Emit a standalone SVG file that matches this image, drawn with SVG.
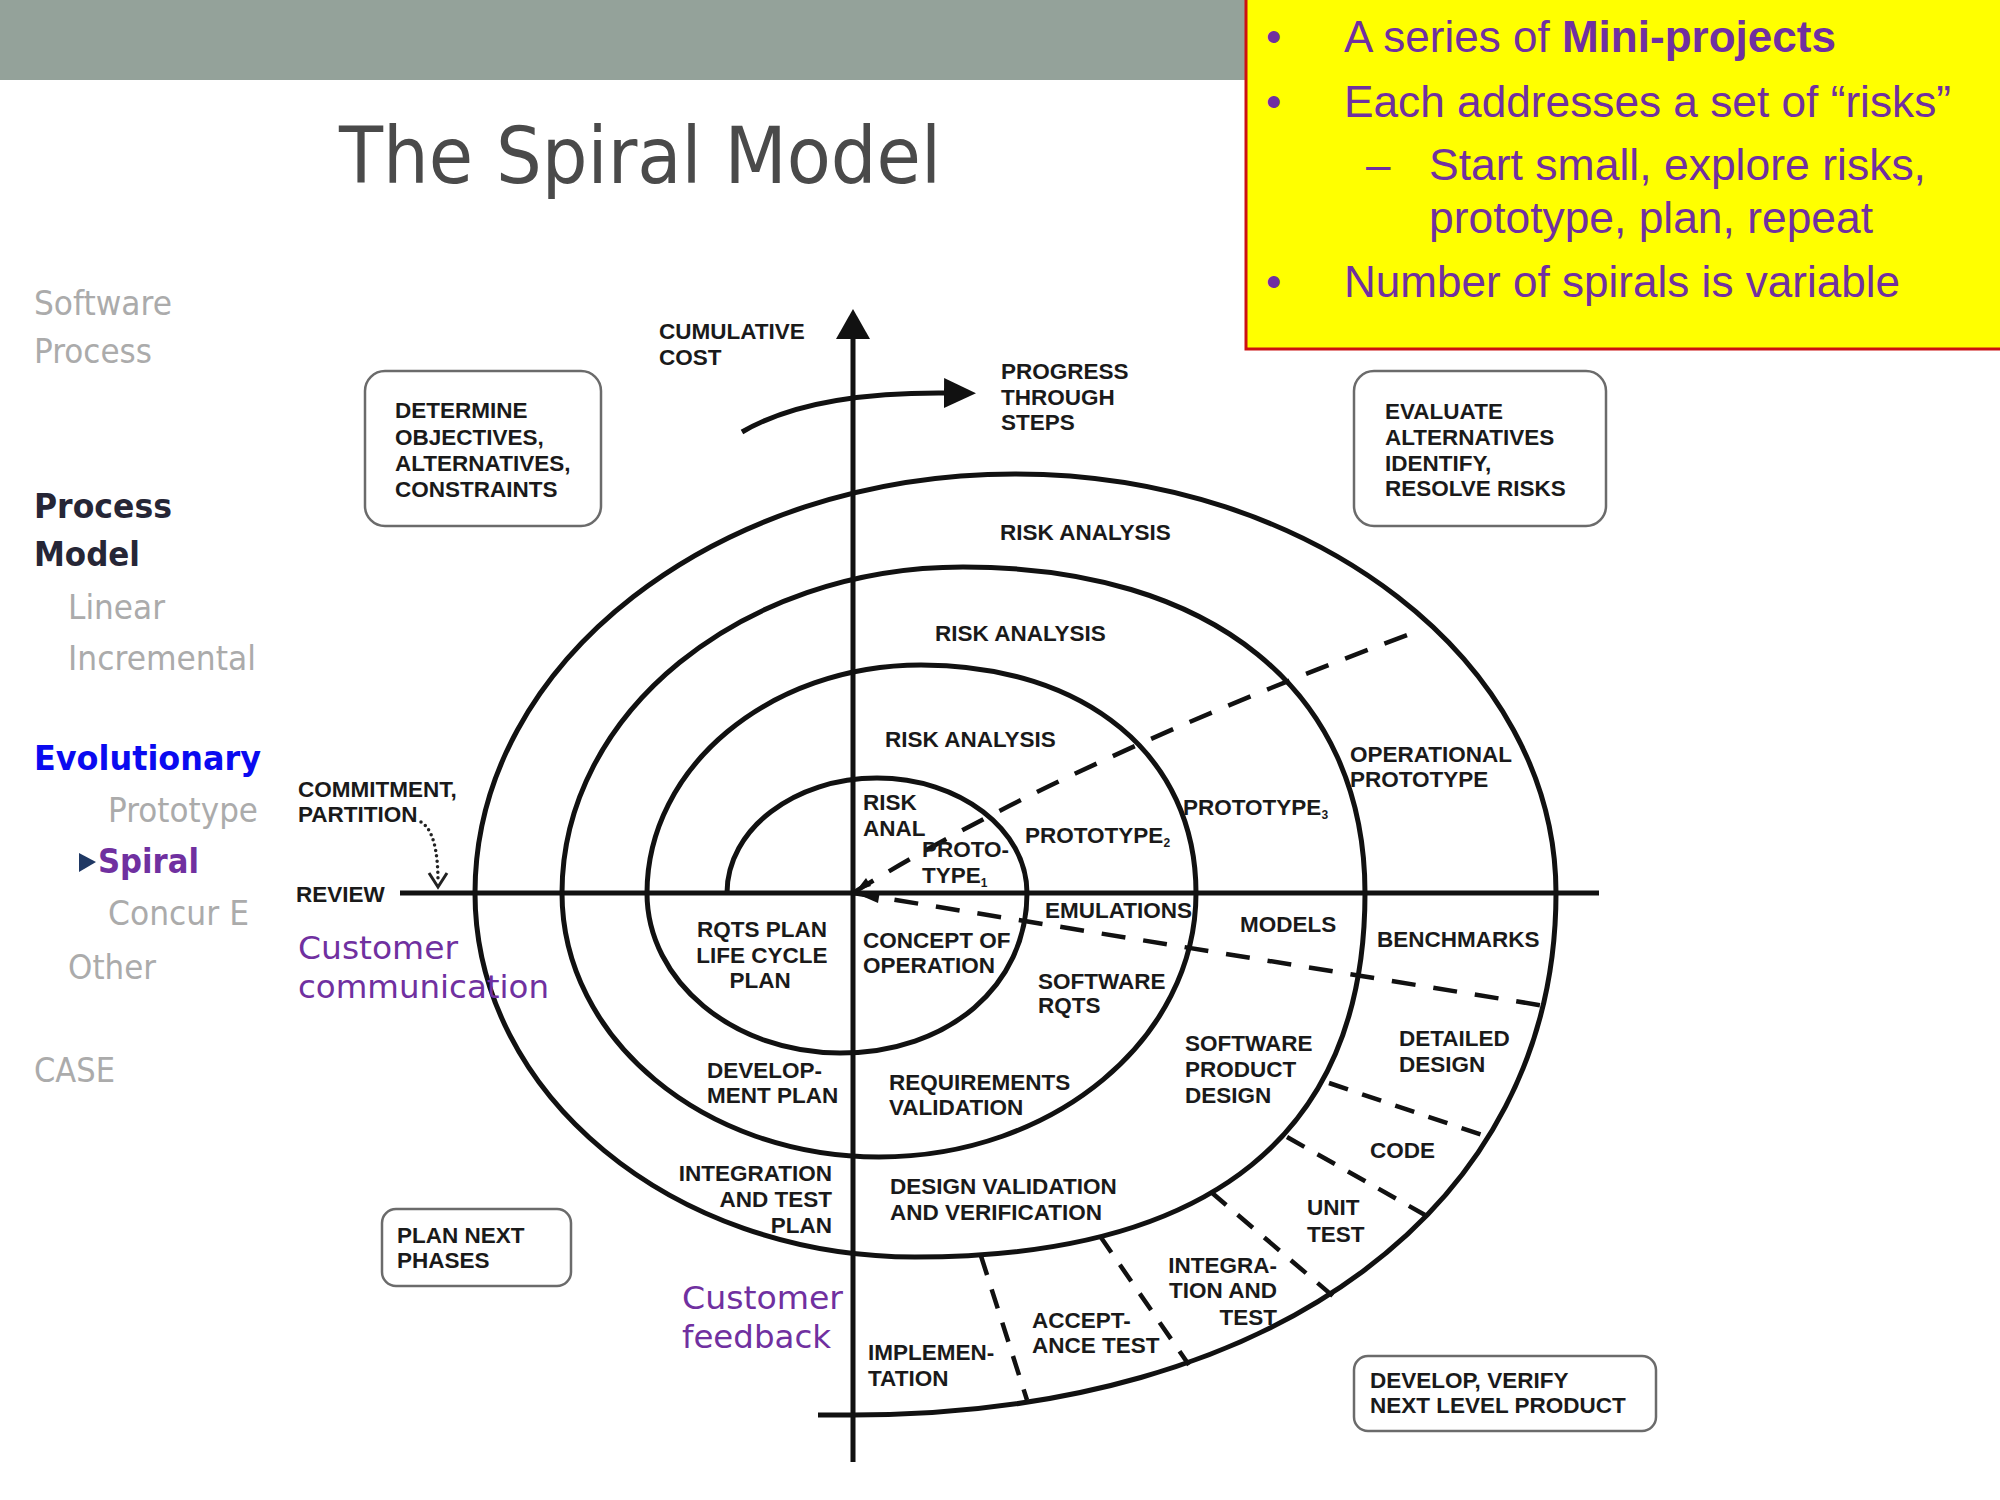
<svg xmlns="http://www.w3.org/2000/svg" width="2000" height="1500" viewBox="0 0 2000 1500">
  <defs>
    <marker id="arrowHead" viewBox="0 0 30 34" refX="1" refY="17" markerWidth="30" markerHeight="34" orient="auto" markerUnits="userSpaceOnUse">
      <path d="M0,0 L30,17 L0,34 Z" fill="#111"/>
    </marker>
    <marker id="arrowHeadSm" viewBox="0 0 32 30" refX="1" refY="15" markerWidth="32" markerHeight="30" orient="auto" markerUnits="userSpaceOnUse">
      <path d="M0,0 L32,15 L0,30 Z" fill="#111"/>
    </marker>
  </defs>
  <style>
    .lbl{font-family:"Liberation Sans",Arial,sans-serif;font-weight:bold;font-size:22.5px;fill:#1a1a1a}
    .sub{font-size:12px}
    .box{fill:#fff;stroke:#6b6b6b;stroke-width:2.5}
    .spiral{fill:none;stroke:#111;stroke-width:5}
    .axis{stroke:#111;stroke-width:5;fill:none}
    .dash{fill:none;stroke:#111;stroke-width:4.5;stroke-dasharray:24 18}
    .dashR{fill:none;stroke:#111;stroke-width:4.5;stroke-dasharray:20 15}
    .side{font-family:"DejaVu Sans",Verdana,sans-serif;font-size:34px;fill:#ababab}
    .sideB{font-family:"DejaVu Sans",Verdana,sans-serif;font-size:34px;font-weight:bold}
    .cust{font-family:"DejaVu Sans",Verdana,sans-serif;font-size:32px;fill:#7030a0}
    .note{font-family:"Liberation Sans",Arial,sans-serif;font-size:44px;fill:#7030a0}
  </style>

  <!-- slide header band -->
  <rect id="header" x="0" y="0" width="2000" height="80" fill="#94a29a"/>

  <!-- title -->
  <text id="title" x="339" y="183" font-family="'DejaVu Sans',Verdana,sans-serif" font-size="78" fill="#4a4a4a" textLength="602" lengthAdjust="spacingAndGlyphs">The Spiral Model</text>

  <!-- navigation sidebar -->
  <g id="sidebar">
    <text class="side" x="34" y="315" textLength="138" lengthAdjust="spacingAndGlyphs">Software</text>
    <text class="side" x="34" y="363" textLength="118" lengthAdjust="spacingAndGlyphs">Process</text>
    <text class="sideB" x="34" y="518" fill="#262636" textLength="138" lengthAdjust="spacingAndGlyphs">Process</text>
    <text class="sideB" x="34" y="566" fill="#262636" textLength="106" lengthAdjust="spacingAndGlyphs">Model</text>
    <text class="side" x="68" y="619" textLength="97" lengthAdjust="spacingAndGlyphs">Linear</text>
    <text class="side" x="68" y="670" textLength="188" lengthAdjust="spacingAndGlyphs">Incremental</text>
    <text class="sideB" x="34" y="770" fill="#0a0af0" textLength="227" lengthAdjust="spacingAndGlyphs">Evolutionary</text>
    <text class="side" x="108" y="822" textLength="150" lengthAdjust="spacingAndGlyphs">Prototype</text>
    <path d="M79,853 L96,862 L79,872 Z" fill="#1f3864"/>
    <text class="sideB" x="98" y="873" fill="#7030a0" textLength="101" lengthAdjust="spacingAndGlyphs">Spiral</text>
    <text class="side" x="108" y="925" textLength="141" lengthAdjust="spacingAndGlyphs">Concur E</text>
    <text class="side" x="68" y="979" textLength="88" lengthAdjust="spacingAndGlyphs">Other</text>
    <text class="side" x="34" y="1082" textLength="81" lengthAdjust="spacingAndGlyphs">CASE</text>
  </g>

  <!-- connectors: axes, spiral, phase boundaries -->
  <g id="connectors">
    <line class="axis" x1="853" y1="1462" x2="853" y2="338" marker-end="url(#arrowHead)"/>
    <line class="axis" x1="400" y1="893" x2="1599" y2="893"/>
    <path class="axis" stroke-width="6" d="M742,432 Q810,392 945,393" marker-end="url(#arrowHeadSm)"/>

    <path class="spiral" d="M727,893
      C727,829.5 794.2,778 877,778 C959.8,778 1027,829.5 1027,893
      C1027,985.8 948.5,1053 840,1053 C733.5,1053 647,981.3 647,893
      C647,767.1 769.8,665 921,665 C1086,665 1196,756.2 1196,893
      C1196,1038.7 1054,1157 879,1157 C704,1157 562,1038.7 562,893
      C562,713 741.6,567 963,567 C1212.2,567 1365,690.9 1365,893
      C1365,1133.2 1212,1257 915,1257 C672.1,1257 475,1093.9 475,893
      C475,661.7 717,474 1015,474 C1313.6,474 1556,661.7 1556,893
      C1556,1206.2 1274.8,1415 853,1415 L818,1415"/>

    <path class="dash" d="M853,893 Q1061,764 1410,634"/>
    <path class="dash" d="M853,893 L1545,1006"/>
    <path d="M856,891 L871,886 L866,878 Z" fill="#111"/>
    <path d="M855,893 L878,903 L880,891 Z" fill="#111"/>

    <path class="dashR" d="M1329,1083 L1482,1135"/>
    <path class="dashR" d="M1287,1137 L1425,1215"/>
    <path class="dashR" d="M1211,1192 L1334,1297"/>
    <path class="dashR" d="M1100,1236 L1189,1365"/>
    <path class="dashR" d="M981,1256 L1027,1400"/>

    <path d="M421,822 Q438,832 438,882" fill="none" stroke="#222" stroke-width="3.5" stroke-linecap="round" stroke-dasharray="0 5.5"/>
    <path d="M429,873 L438,887 L447,873" fill="none" stroke="#222" stroke-width="3"/>
  </g>

  <!-- quadrant boxes -->
  <g id="node-determine">
    <rect class="box" x="365" y="371" width="236" height="155" rx="20"/>
    <text class="lbl" x="395" y="418">DETERMINE</text>
    <text class="lbl" x="395" y="445">OBJECTIVES,</text>
    <text class="lbl" x="395" y="471">ALTERNATIVES,</text>
    <text class="lbl" x="395" y="497">CONSTRAINTS</text>
  </g>
  <g id="node-evaluate">
    <rect class="box" x="1354" y="371" width="252" height="155" rx="20"/>
    <text class="lbl" x="1385" y="419">EVALUATE</text>
    <text class="lbl" x="1385" y="445">ALTERNATIVES</text>
    <text class="lbl" x="1385" y="471">IDENTIFY,</text>
    <text class="lbl" x="1385" y="496">RESOLVE RISKS</text>
  </g>
  <g id="node-plan-next">
    <rect class="box" x="382" y="1209" width="189" height="77" rx="14"/>
    <text class="lbl" x="397" y="1243">PLAN NEXT</text>
    <text class="lbl" x="397" y="1268">PHASES</text>
  </g>
  <g id="node-develop">
    <rect class="box" x="1354" y="1356" width="302" height="75" rx="14"/>
    <text class="lbl" x="1370" y="1388">DEVELOP, VERIFY</text>
    <text class="lbl" x="1370" y="1413">NEXT LEVEL PRODUCT</text>
  </g>

  <!-- axis labels -->
  <g id="node-axes-labels">
    <text class="lbl" x="659" y="339">CUMULATIVE</text>
    <text class="lbl" x="659" y="365">COST</text>
    <text class="lbl" x="1001" y="379">PROGRESS</text>
    <text class="lbl" x="1001" y="405">THROUGH</text>
    <text class="lbl" x="1001" y="430">STEPS</text>
    <text class="lbl" x="298" y="797">COMMITMENT,</text>
    <text class="lbl" x="298" y="822">PARTITION</text>
    <text class="lbl" x="296" y="902">REVIEW</text>
  </g>

  <!-- risk analysis / prototype sector -->
  <g id="node-risk">
    <text class="lbl" x="1000" y="540">RISK ANALYSIS</text>
    <text class="lbl" x="935" y="641">RISK ANALYSIS</text>
    <text class="lbl" x="885" y="747">RISK ANALYSIS</text>
    <text class="lbl" x="863" y="810">RISK</text>
    <text class="lbl" x="863" y="836">ANAL</text>
    <text class="lbl" x="922" y="857">PROTO-</text>
    <text class="lbl" x="922" y="883">TYPE<tspan class="sub" dy="4">1</tspan></text>
    <text class="lbl" x="1025" y="843">PROTOTYPE<tspan class="sub" dy="4">2</tspan></text>
    <text class="lbl" x="1183" y="815">PROTOTYPE<tspan class="sub" dy="4">3</tspan></text>
    <text class="lbl" x="1350" y="762">OPERATIONAL</text>
    <text class="lbl" x="1350" y="787">PROTOTYPE</text>
  </g>

  <!-- development sector -->
  <g id="node-develop-sector">
    <text class="lbl" x="1045" y="918">EMULATIONS</text>
    <text class="lbl" x="1240" y="932">MODELS</text>
    <text class="lbl" x="1377" y="947">BENCHMARKS</text>
    <text class="lbl" x="863" y="948">CONCEPT OF</text>
    <text class="lbl" x="863" y="973">OPERATION</text>
    <text class="lbl" x="1038" y="989">SOFTWARE</text>
    <text class="lbl" x="1038" y="1013">RQTS</text>
    <text class="lbl" x="1185" y="1051">SOFTWARE</text>
    <text class="lbl" x="1185" y="1077">PRODUCT</text>
    <text class="lbl" x="1185" y="1103">DESIGN</text>
    <text class="lbl" x="1399" y="1046">DETAILED</text>
    <text class="lbl" x="1399" y="1072">DESIGN</text>
    <text class="lbl" x="889" y="1090">REQUIREMENTS</text>
    <text class="lbl" x="889" y="1115">VALIDATION</text>
    <text class="lbl" x="1370" y="1158">CODE</text>
    <text class="lbl" x="890" y="1194">DESIGN VALIDATION</text>
    <text class="lbl" x="890" y="1220">AND VERIFICATION</text>
    <text class="lbl" x="1307" y="1215">UNIT</text>
    <text class="lbl" x="1307" y="1242">TEST</text>
    <text class="lbl" x="1277" y="1273" text-anchor="end">INTEGRA-</text>
    <text class="lbl" x="1277" y="1298" text-anchor="end">TION AND</text>
    <text class="lbl" x="1277" y="1325" text-anchor="end">TEST</text>
    <text class="lbl" x="1032" y="1328">ACCEPT-</text>
    <text class="lbl" x="1032" y="1353">ANCE TEST</text>
    <text class="lbl" x="868" y="1360">IMPLEMEN-</text>
    <text class="lbl" x="868" y="1386">TATION</text>
  </g>

  <!-- planning sector -->
  <g id="node-plan-sector">
    <text class="lbl" x="762" y="937" text-anchor="middle">RQTS PLAN</text>
    <text class="lbl" x="762" y="963" text-anchor="middle">LIFE CYCLE</text>
    <text class="lbl" x="760" y="988" text-anchor="middle">PLAN</text>
    <text class="lbl" x="707" y="1078">DEVELOP-</text>
    <text class="lbl" x="707" y="1103">MENT PLAN</text>
    <text class="lbl" x="832" y="1181" text-anchor="end">INTEGRATION</text>
    <text class="lbl" x="832" y="1207" text-anchor="end">AND TEST</text>
    <text class="lbl" x="832" y="1233" text-anchor="end">PLAN</text>
  </g>

  <!-- customer annotations -->
  <g id="node-customer">
    <text class="cust" x="298" y="959" textLength="160" lengthAdjust="spacingAndGlyphs">Customer</text>
    <text class="cust" x="298" y="998" textLength="251" lengthAdjust="spacingAndGlyphs">communication</text>
    <text class="cust" x="682" y="1309" textLength="161" lengthAdjust="spacingAndGlyphs">Customer</text>
    <text class="cust" x="682" y="1348" textLength="149" lengthAdjust="spacingAndGlyphs">feedback</text>
  </g>

  <!-- highlighted notes -->
  <g id="node-notes">
    <rect x="1246" y="-4" width="760" height="353" fill="#ffff00" stroke="#cc1111" stroke-width="3"/>
    <text class="note" x="1266" y="52">•</text>
    <text class="note" x="1344" y="52" textLength="492" lengthAdjust="spacingAndGlyphs">A series of <tspan font-weight="bold">Mini-projects</tspan></text>
    <text class="note" x="1266" y="117">•</text>
    <text class="note" x="1344" y="117" textLength="607" lengthAdjust="spacingAndGlyphs">Each addresses a set of “risks”</text>
    <text class="note" x="1366" y="180">–</text>
    <text class="note" x="1429" y="180" textLength="497" lengthAdjust="spacingAndGlyphs">Start small, explore risks,</text>
    <text class="note" x="1429" y="233" textLength="444" lengthAdjust="spacingAndGlyphs">prototype, plan, repeat</text>
    <text class="note" x="1266" y="297">•</text>
    <text class="note" x="1344" y="297" textLength="556" lengthAdjust="spacingAndGlyphs">Number of spirals is variable</text>
  </g>
</svg>
